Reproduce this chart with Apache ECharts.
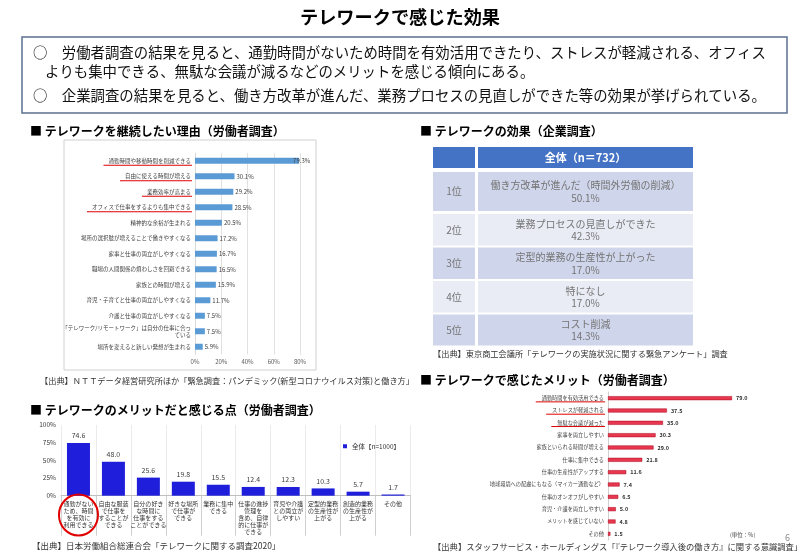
<!DOCTYPE html>
<html><head><meta charset="utf-8">
<script src="https://cdn.jsdelivr.net/npm/echarts@6/dist/echarts.min.js"></script>
<style>html,body{margin:0;padding:0;background:#fff}#c{width:800px;height:554px}</style>
</head><body><div id="c"></div>
<script>
const FONT = '"Noto Sans CJK JP", "Noto Sans", sans-serif';

// ---------- data ----------
const pageTitle = 'テレワークで感じた効果';
const summaryLines = [
  '○　労働者調査の結果を見ると、通勤時間がないため時間を有効活用できたり、ストレスが軽減される、オフィス',
  'よりも集中できる、無駄な会議が減るなどのメリットを感じる傾向にある。',
  '○　企業調査の結果を見ると、働き方改革が進んだ、業務プロセスの見直しができた等の効果が挙げられている。'
];
const headings = [
  '■ テレワークを継続したい理由（労働者調査）',
  '■ テレワークの効果（企業調査）',
  '■ テレワークのメリットだと感じる点（労働者調査）',
  '■ テレワークで感じたメリット（労働者調査）'
];
const sources = [
  '【出典】ＮＴＴデータ経営研究所ほか「緊急調査：パンデミック(新型コロナウイルス対策)と働き方」',
  '【出典】東京商工会議所「テレワークの実施状況に関する緊急アンケート」調査',
  '【出典】日本労働組合総連合会「テレワークに関する調査2020」',
  '【出典】スタッフサービス・ホールディングス「『テレワーク導入後の働き方』に関する意識調査」'
];

// chart 1: reasons to continue telework
const reasonCats = [
  '通勤時間や移動時間を削減できる',
  '自由に使える時間が増える',
  '業務効率が高まる',
  'オフィスで仕事をするよりも集中できる',
  '精神的な余裕が生まれる',
  '場所の選択肢が増えることで働きやすくなる',
  '家事と仕事の両立がしやすくなる',
  '職場の人間関係の煩わしさを回避できる',
  '家族との時間が増える',
  '育児・子育てと仕事の両立がしやすくなる',
  '介護と仕事の両立がしやすくなる',
  '「テレワーク/リモートワーク」は自分の仕事に合っ\nている',
  '場所を変えると新しい発想が生まれる'
];
const reasonValues = [79.3, 30.1, 29.2, 28.5, 20.5, 17.2, 16.7, 16.5, 15.9, 11.7, 7.5, 7.5, 5.9];
const reasonTicks = [0, 20, 40, 60, 80];
const reasonUnderlined = 4;

// chart 2: merits (Rengo)
const meritCats = [
  '通勤がない\nため、時間\nを有効に\n利用できる',
  '自由な服装\nで仕事を\nすることが\nできる',
  '自分の好き\nな時間に\n仕事をする\nことができる',
  '好きな場所\nで仕事が\nできる',
  '業務に集中\nできる',
  '仕事の進捗\n管理を\n含め、自律\n的に仕事が\nできる',
  '育児や介護\nとの両立が\nしやすい',
  '定型的業務\nの生産性が\n上がる',
  '創造的業務\nの生産性が\n上がる',
  'その他'
];
const meritValues = [74.6, 48.0, 25.6, 19.8, 15.5, 12.4, 12.3, 10.3, 5.7, 1.7];
const meritTicks = [0, 25, 50, 75, 100];
const meritSeriesName = '全体【n=1000】';

// chart 3: felt merits (Staff Service)
const feltCats = [
  '通勤時間を有効活用できる',
  'ストレスが軽減される',
  '無駄な会議が減った',
  '家事を両立しやすい',
  '家族といられる時間が増える',
  '仕事に集中できる',
  '仕事の生産性がアップする',
  '地球環境への配慮にもなる（マイカー通勤など）',
  '仕事のオンオフがしやすい',
  '育児・介護を両立しやすい',
  'メリットを感じていない',
  'その他'
];
const feltValues = [79.0, 37.5, 35.0, 30.3, 29.0, 21.8, 11.6, 7.4, 6.5, 5.0, 4.8, 1.5];
const feltUnderlined = 3;
const feltUnit = '(単位：%)';

// table: company survey
const tableHeader = '全体（n＝732）';
const rankLabels = ['1位', '2位', '3位', '4位', '5位'];
const effectItems = ['働き方改革が進んだ（時間外労働の削減）', '業務プロセスの見直しができた', '定型的業務の生産性が上がった', '特になし', 'コスト削減'];
const effectValues = [50.1, 42.3, 17.0, 17.0, 14.3];
const pageNumber = '6';

// ---------- chart ----------
const chart = echarts.init(document.getElementById('c'));
const base = { fontFamily: FONT };

chart.setOption({
  backgroundColor: '#fff',
  animation: false,
  textStyle: base,
  legend: {
    data: [meritSeriesName], left: 338, top: 438, icon: 'rect', itemWidth: 4, itemHeight: 4, itemGap: 2,
    textStyle: { fontSize: 6.5, color: '#333', fontFamily: FONT }
  },
  grid: [
    { left: 195, top: 153, width: 105, height: 201.5 },
    { left: 61, top: 425, width: 349.5, height: 70.7 },
    { left: 608, top: 392, width: 125.6, height: 148 }
  ],
  xAxis: [
    { gridIndex: 0, type: 'value', min: reasonTicks[0], max: reasonTicks[reasonTicks.length - 1],
      interval: reasonTicks[1] - reasonTicks[0],
      axisLabel: { formatter: '{value}%', fontSize: 6, color: '#595959', margin: 4, fontFamily: FONT },
      splitLine: { lineStyle: { color: '#d9d9d9', width: 0.8 } }, axisLine: { show: false }, axisTick: { show: false } },
    { gridIndex: 1, type: 'category', data: meritCats,
      axisLine: { lineStyle: { color: '#bfbfbf' } },
      axisTick: { show: true, length: 40, interval: 0, lineStyle: { color: '#d0d0d0' } },
      splitLine: { show: true, interval: 0, lineStyle: { color: '#e6e6e6', width: 0.8 } },
      axisLabel: { interval: 0, fontSize: 6, lineHeight: 7, color: '#333', margin: 5, fontFamily: FONT, verticalAlign: 'top' } },
    { gridIndex: 2, type: 'value', min: 0, max: 80, show: false, splitLine: { show: false } }
  ],
  yAxis: [
    { gridIndex: 0, type: 'category', inverse: true, data: reasonCats,
      axisLine: { lineStyle: { color: '#d9d9d9' } }, axisTick: { show: false },
      axisLabel: { fontSize: 5.5, lineHeight: 6.5, color: '#404040', margin: 4, fontFamily: FONT } },
    { gridIndex: 1, type: 'value', min: meritTicks[0], max: meritTicks[meritTicks.length - 1],
      interval: meritTicks[1] - meritTicks[0],
      axisLabel: { formatter: '{value}%', fontSize: 6.5, color: '#404040', margin: 5, fontFamily: FONT },
      splitLine: { show: false }, axisLine: { show: false }, axisTick: { show: false } },
    { gridIndex: 2, type: 'category', inverse: true, data: feltCats,
      axisLine: { lineStyle: { color: '#d0d0d0' } }, axisTick: { show: false },
      axisLabel: { fontSize: 5.2, color: '#404040', margin: 4, fontFamily: FONT } }
  ],
  series: [
    { type: 'bar', name: '継続したい理由', xAxisIndex: 0, yAxisIndex: 0, barWidth: 6,
      data: reasonValues.map((v, i) => i === 0 ? { value: v, label: { offset: [-8, 0] } } : v),
      itemStyle: { color: '#5b9bd5' },
      label: { show: true, position: 'right', distance: 2, fontSize: 6, color: '#404040', fontFamily: FONT,
        formatter: p => p.value.toFixed(1) + '%' } },
    { type: 'bar', name: meritSeriesName, xAxisIndex: 1, yAxisIndex: 1, barWidth: 23,
      data: meritValues, itemStyle: { color: '#1f1fdb' },
      label: { show: true, position: 'top', distance: 4, fontSize: 7, color: '#404040', fontFamily: FONT,
        formatter: p => p.value.toFixed(1) } },
    { type: 'bar', name: '感じたメリット', xAxisIndex: 2, yAxisIndex: 2, barWidth: 4,
      data: feltValues, itemStyle: { color: '#e8384f', borderColor: '#a8001a', borderWidth: 0.5 },
      label: { show: true, position: 'right', distance: 4, fontSize: 5.5, fontWeight: 'bold', color: '#333', fontFamily: FONT,
        formatter: p => p.value.toFixed(1) } }
  ]
});

// ---------- annotations / layout graphics ----------
const ctx = document.createElement('canvas').getContext('2d');
function textW(t, size) { ctx.font = size + 'px ' + FONT; return ctx.measureText(t).width; }
function txt(text, x, y, size, opt) {
  opt = opt || {};
  return { type: 'text', x: x, y: y, z: 50, silent: true,
    style: { text: text, fontSize: size, fontFamily: FONT, fontWeight: opt.bold ? 'bold' : 'normal',
      fill: opt.color || '#000', align: opt.align || 'left', verticalAlign: opt.va || 'middle' } };
}
const g = [];
g.push(txt(pageTitle, 400, 17, 18.2, { bold: true, align: 'center' }));
g.push({ type: 'rect', shape: { x: 22, y: 37, width: 765, height: 76 }, style: { fill: 'none', stroke: '#5a7090', lineWidth: 1.5 } });
g.push(txt(summaryLines[0], 33, 53, 14.4, { color: '#111' }));
g.push(txt(summaryLines[1], 45, 72, 14.4, { color: '#111' }));
g.push(txt(summaryLines[2], 33, 96, 14.4, { color: '#111' }));
g.push(txt(headings[0], 30, 131, 12, { bold: true }));
g.push(txt(headings[1], 420, 131, 12, { bold: true }));
g.push(txt(headings[2], 30, 410, 12, { bold: true }));
g.push(txt(headings[3], 420, 380, 12, { bold: true }));
g.push(txt(sources[0], 40, 381, 8.2, { color: '#333' }));
g.push(txt(sources[1], 433, 354, 8.2, { color: '#333' }));
g.push(txt(sources[2], 32, 546, 8.5, { color: '#333' }));
g.push(txt(sources[3], 433, 547, 8.3, { color: '#333' }));
g.push(txt(feltUnit, 730, 535, 5.5, { color: '#404040' }));
g.push(txt(pageNumber, 790, 538, 9, { color: '#888', align: 'right' }));
// chart 1 frame
g.push({ type: 'rect', z: 0, shape: { x: 64, y: 140, width: 252, height: 230 }, style: { fill: 'none', stroke: '#d0d0d0', lineWidth: 1 } });

// underlines chart 1
for (let i = 0; i < reasonUnderlined; i++) {
  const y = chart.convertToPixel({ yAxisIndex: 0 }, i) + 4.5;
  const r = 191, w = textW(reasonCats[i], 5.5);
  g.push({ type: 'line', shape: { x1: r - w - 5, y1: y, x2: r + 1, y2: y }, style: { stroke: '#e00000', lineWidth: 1 } });
}
// underlines chart 3
for (let i = 0; i < feltUnderlined; i++) {
  const y = chart.convertToPixel({ yAxisIndex: 2 }, i) + 3.7;
  const r = 604, w = textW(feltCats[i], 5.2);
  g.push({ type: 'line', shape: { x1: r - w - 6, y1: y, x2: r + 1, y2: y }, style: { stroke: '#e00000', lineWidth: 1 } });
}
// ellipse round chart 2 first category
{
  const cx = chart.convertToPixel({ xAxisIndex: 1 }, 0);
  g.push({ type: 'ellipse', z: 60, shape: { cx: cx, cy: 515, rx: 19.5, ry: 20.5 }, style: { fill: 'none', stroke: '#e00000', lineWidth: 2 } });
}

// table
const TX = 433, LW = 42, MX = 478, MW = 215;
g.push({ type: 'rect', shape: { x: TX, y: 147, width: LW, height: 21 }, style: { fill: '#4472c4' } });
g.push({ type: 'rect', shape: { x: MX, y: 147, width: MW, height: 21 }, style: { fill: '#4472c4' } });
g.push(txt(tableHeader, MX + MW / 2, 157.5, 11, { bold: true, color: '#fff', align: 'center' }));
const rowTops = [172, 214, 247.5, 281, 314.5];
const rowHs = [39, 31.5, 31.5, 31.5, 31];
rankLabels.forEach((rk, i) => {
  const fill = i % 2 === 0 ? '#cfd5ea' : '#e9ebf5';
  const t = rowTops[i], h = rowHs[i], cy = t + h / 2;
  g.push({ type: 'rect', shape: { x: TX, y: t, width: LW, height: h }, style: { fill: fill } });
  g.push({ type: 'rect', shape: { x: MX, y: t, width: MW, height: h }, style: { fill: fill } });
  g.push(txt(rk, TX + LW / 2, cy, 10, { color: '#757575', align: 'center' }));
  g.push(txt(effectItems[i], MX + MW / 2, cy - 6, 10, { color: '#757575', align: 'center' }));
  g.push(txt(effectValues[i].toFixed(1) + '%', MX + MW / 2, cy + 6.5, 10, { color: '#757575', align: 'center' }));
});

chart.setOption({ graphic: g });
</script></body></html>
